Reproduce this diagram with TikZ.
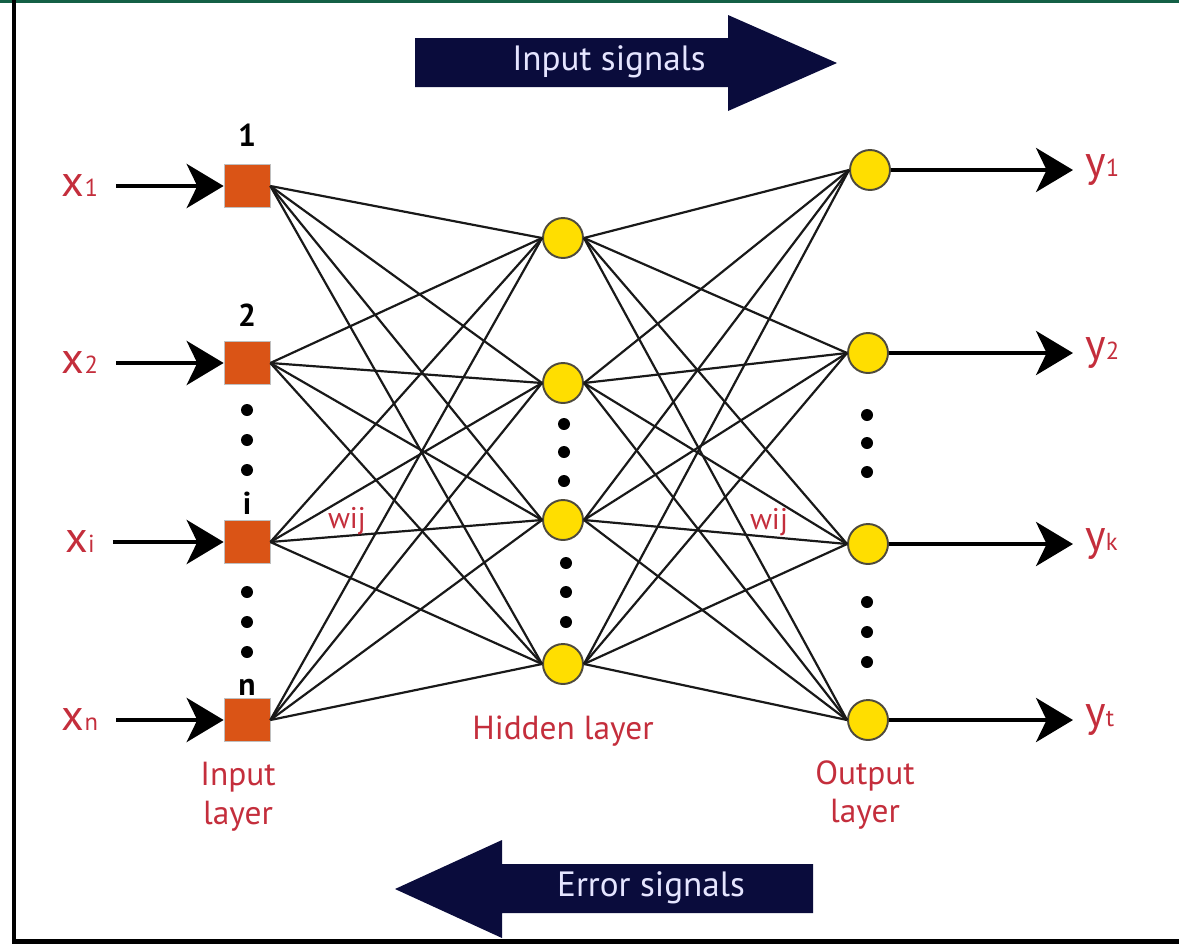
\documentclass[tikz,border=0pt]{standalone}
\usepackage{fontspec}
\setmainfont{PT Sans}
\usepackage{xcolor}
\usepackage{tikz}
\usetikzlibrary{arrows.meta, positioning}
\definecolor{annred}{RGB}{196, 46, 60}
\definecolor{signalnavy}{RGB}{10, 12, 60}
\definecolor{unitorange}{RGB}{218, 84, 22}
\definecolor{unityellow}{RGB}{255, 222, 0}
\definecolor{framegreen}{RGB}{20, 96, 70}
\newcommand{\subidx}[1]{{\fontsize{14}{14}\selectfont #1}}

\begin{document}
\begin{tikzpicture}[
    x=0.02cm, y=-0.02cm,
    inunit/.style={rectangle, draw=white!75!black, fill=unitorange, line width=0.4pt,
                   minimum width=0.92cm, minimum height=0.86cm, inner sep=0pt},
    neuron/.style={circle, draw=black!80!yellow, fill=unityellow, line width=1.1pt,
                   minimum size=0.8cm, inner sep=0pt},
    link/.style={line width=1.25pt, black!90},
    feed/.style={-{Stealth[length=21pt, width=25pt, inset=6pt]}, line width=2.8pt},
    varlabel/.style={text=annred, font=\fontsize{25}{25}\selectfont, inner sep=0pt},
    idx/.style={font=\fontsize{18}{18}\selectfont\bfseries, inner sep=0pt},
    gapdot/.style={circle, fill=black, minimum size=0.24cm, inner sep=0pt},
    layername/.style={text=annred, font=\fontsize{19}{22}\selectfont, align=center},
    weight/.style={text=annred, font=\fontsize{17}{17}\selectfont, inner sep=0pt},
    signal/.style={text=white!90!blue, font=\fontsize{20}{20}\selectfont}
]
    \useasboundingbox (0,0) rectangle (1179,944);

    % Frame
    \draw[framegreen, line width=1.6pt] (0,1.5) -- (1179,1.5);
    \draw[black, line width=2.4pt] (14,0) -- (14,944);
    \draw[black, line width=2.8pt] (14,941.5) -- (1179,941.5);

    % Signal arrows
    \fill[signalnavy] (415,38) -- (728,38) -- (728,15) -- (837,63) -- (728,111)
        -- (728,87) -- (415,87) -- cycle;
    \node[signal] (sigin) at (609,62) {Input signals};
    \fill[signalnavy] (813,864) -- (502,864) -- (502,840) -- (395,889) -- (502,938)
        -- (502,913) -- (813,913) -- cycle;
    \node[signal] (sigerr) at (651,888) {Error signals};

    % Input layer
    \node[inunit] (in1) at (247,186) {};
    \node[inunit] (in2) at (247,363) {};
    \node[inunit] (in3) at (247,542) {};
    \node[inunit] (in4) at (247,720) {};
    \node[idx] (num1) at (247,135) {1};
    \node[idx] (num2) at (247,315) {2};
    \node[idx] (num3) at (247,503) {i};
    \node[idx] (num4) at (247,687) {n};
    \node[gapdot] (ida) at (247,410) {};
    \node[gapdot] (idb) at (247,440) {};
    \node[gapdot] (idc) at (247,470) {};
    \node[gapdot] (idd) at (247,592) {};
    \node[gapdot] (ide) at (247,622) {};
    \node[gapdot] (idf) at (247,652) {};

    % Hidden layer
    \node[neuron] (hid1) at (563,238) {};
    \node[neuron] (hid2) at (563,383) {};
    \node[neuron] (hid3) at (563,520) {};
    \node[neuron] (hid4) at (563,664) {};
    \node[gapdot] (hda) at (564,424) {};
    \node[gapdot] (hdb) at (564,452) {};
    \node[gapdot] (hdc) at (564,481) {};
    \node[gapdot] (hdd) at (566,563) {};
    \node[gapdot] (hde) at (566,592) {};
    \node[gapdot] (hdf) at (566,622) {};

    % Output layer
    \node[neuron] (out1) at (870,170) {};
    \node[neuron] (out2) at (868,353) {};
    \node[neuron] (out3) at (868,544) {};
    \node[neuron] (out4) at (868,720) {};
    \node[gapdot] (oda) at (867,415) {};
    \node[gapdot] (odb) at (867,443) {};
    \node[gapdot] (odc) at (867,472) {};
    \node[gapdot] (odd) at (867,602) {};
    \node[gapdot] (ode) at (867,632) {};
    \node[gapdot] (odf) at (867,662) {};

    % Weighted links
    \foreach \a in {1,...,4}
        \foreach \b in {1,...,4} {
            \draw[link] (in\a.east) -- (hid\b.west);
            \draw[link] (hid\a.east) -- (out\b.west);
        }
    \node[weight] (w1) at (347,521) {wij};
    \node[weight] (w2) at (769,522) {wij};

    % Inputs and outputs
    \node[varlabel] (x1) at (80,186) {x\subidx{1}};
    \node[varlabel] (x2) at (80,363) {x\subidx{2}};
    \node[varlabel] (x3) at (80,542) {x\subidx{i}};
    \node[varlabel] (x4) at (80,720) {x\subidx{n}};
    \node[varlabel, anchor=west] (y1) at (1085,170) {y\subidx{1}};
    \node[varlabel, anchor=west] (y2) at (1085,353) {y\subidx{2}};
    \node[varlabel, anchor=west] (y3) at (1085,544) {y\subidx{k}};
    \node[varlabel, anchor=west] (y4) at (1085,720) {y\subidx{t}};
    \foreach \k in {1,...,4} {
        \draw[feed, shorten <=0.36cm] (x\k) -- (in\k);
        \draw[feed, shorten >=0.24cm] (out\k) -- (y\k);
    }

    % Layer names
    \node[layername] (lin) at (238,797) {Input\\layer};
    \node[layername] (lhid) at (563,731) {Hidden layer};
    \node[layername] (lout) at (865,795) {Output\\layer};
\end{tikzpicture}
\end{document}
